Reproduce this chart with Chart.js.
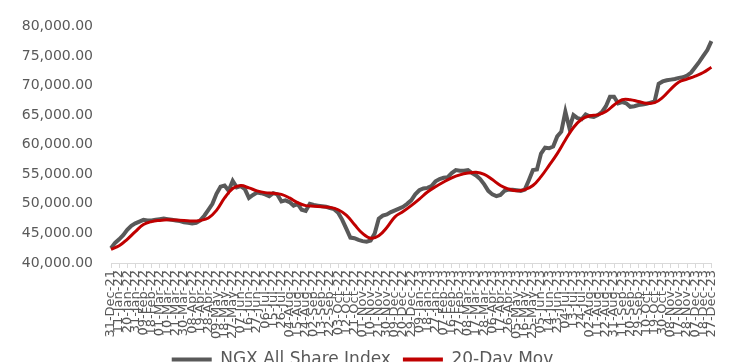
<!DOCTYPE html>
<html>
<head>
<meta charset="utf-8">
<script src="https://cdn.jsdelivr.net/npm/chart.js@4.4.1/dist/chart.umd.min.js"></script>
<style>
  html, body { margin: 0; padding: 0; background: #ffffff; overflow: hidden; }
  #wrap { position: absolute; left: 0; top: 0; width: 729px; height: 378px; }
</style>
</head>
<body>
<div id="wrap"><canvas id="c"></canvas></div>
<script>
// Sampled trading sessions; every other one carries an axis label
const sessions = [
  '31-Dec-21','06-Jan-22','11-Jan-22','17-Jan-22','20-Jan-22','26-Jan-22','31-Jan-22','04-Feb-22',
  '09-Feb-22','15-Feb-22','18-Feb-22','24-Feb-22','01-Mar-22','07-Mar-22','10-Mar-22','16-Mar-22',
  '21-Mar-22','25-Mar-22','30-Mar-22','05-Apr-22','08-Apr-22','14-Apr-22','19-Apr-22','25-Apr-22',
  '28-Apr-22','04-May-22','09-May-22','13-May-22','18-May-22','24-May-22','27-May-22','02-Jun-22',
  '07-Jun-22','13-Jun-22','16-Jun-22','22-Jun-22','27-Jun-22','01-Jul-22','06-Jul-22','12-Jul-22',
  '15-Jul-22','21-Jul-22','26-Jul-22','01-Aug-22','04-Aug-22','10-Aug-22','15-Aug-22','19-Aug-22',
  '24-Aug-22','30-Aug-22','02-Sep-22','08-Sep-22','13-Sep-22','19-Sep-22','22-Sep-22','28-Sep-22',
  '03-Oct-22','07-Oct-22','12-Oct-22','18-Oct-22','21-Oct-22','27-Oct-22','01-Nov-22','07-Nov-22',
  '10-Nov-22','16-Nov-22','21-Nov-22','25-Nov-22','30-Nov-22','06-Dec-22','09-Dec-22','15-Dec-22',
  '20-Dec-22','23-Dec-22','29-Dec-22','04-Jan-23','09-Jan-23','13-Jan-23','18-Jan-23','24-Jan-23',
  '27-Jan-23','02-Feb-23','07-Feb-23','13-Feb-23','16-Feb-23','22-Feb-23','27-Feb-23','03-Mar-23',
  '08-Mar-23','14-Mar-23','17-Mar-23','23-Mar-23','28-Mar-23','03-Apr-23','06-Apr-23','12-Apr-23',
  '17-Apr-23','21-Apr-23','26-Apr-23','02-May-23','05-May-23','11-May-23','16-May-23','22-May-23',
  '25-May-23','31-May-23','05-Jun-23','09-Jun-23','14-Jun-23','20-Jun-23','23-Jun-23','29-Jun-23',
  '04-Jul-23','10-Jul-23','13-Jul-23','19-Jul-23','24-Jul-23','28-Jul-23','02-Aug-23','08-Aug-23',
  '11-Aug-23','17-Aug-23','22-Aug-23','28-Aug-23','31-Aug-23','06-Sep-23','11-Sep-23','15-Sep-23',
  '20-Sep-23','26-Sep-23','29-Sep-23','05-Oct-23','10-Oct-23','16-Oct-23','19-Oct-23','25-Oct-23',
  '30-Oct-23','03-Nov-23','08-Nov-23','14-Nov-23','17-Nov-23','23-Nov-23','28-Nov-23','04-Dec-23',
  '07-Dec-23','13-Dec-23','18-Dec-23','22-Dec-23','27-Dec-23'
];

// NGX All Share Index closing level
const asiIndex = [
  42500, 43400, 44000, 44700, 45600, 46300, 46700, 47000, 47300, 47200,
  47200, 47300, 47400, 47500, 47400, 47300, 47200, 47100, 46900, 46800,
  46700, 46800, 47200, 48000, 49000, 50000, 51700, 52900, 53100, 52200,
  53900, 52800, 53000, 52500, 51000, 51500, 51900, 51800, 51600, 51300,
  51800, 51600, 50400, 50600, 50300, 49700, 50000, 49000, 48800, 50000,
  49800, 49700, 49600, 49500, 49300, 49100, 48500, 47300, 45800, 44300,
  44200, 43900, 43700, 43600, 43800, 45000, 47500, 48000, 48200, 48600,
  48900, 49200, 49500, 50000, 50600, 51600, 52300, 52600, 52700, 53000,
  53800, 54200, 54400, 54500, 55200, 55700, 55600, 55600, 55700, 55200,
  54800, 54200, 53300, 52200, 51600, 51300, 51500, 52200, 52400, 52400,
  52300, 52200, 52400, 54000, 55700, 55800, 58500, 59500, 59400, 59700,
  61400, 62200, 65600, 62800, 65000, 64500, 64300, 65100, 64800, 64700,
  65000, 65500, 66500, 68100, 68100, 67000, 67200, 67000, 66400, 66500,
  66700, 66800, 66900, 67100, 67300, 70300, 70700, 70900, 71000, 71100,
  71300, 71400, 71700, 72200, 73100, 74000, 75000, 76000, 77500
];

// 20-day moving average, read at the labelled sessions
const movingAvg20 = [
  42300, null, 42900, null, 44000, null, 45300, null, 46500, null,
  47000, null, 47200, null, 47300, null, 47250, null, 47200, null,
  47100, null, 47200, null, 47600, null, 48900, null, 51000, null,
  52600, null, 53100, null, 52700, null, 52200, null, 51900, null,
  51800, null, 51600, null, 51000, null, 50200, null, 49700, null,
  49600, null, 49500, null, 49400, null, 49000, null, 48100, null,
  46500, null, 45000, null, 44200, null, 44600, null, 46000, null,
  47800, null, 48700, null, 49700, null, 50800, null, 52000, null,
  52900, null, 53700, null, 54400, null, 54900, null, 55200, null,
  55350, null, 55000, null, 54100, null, 53100, null, 52500, null,
  52200, null, 52400, null, 53100, null, 54600, null, 56500, null,
  58500, null, 60800, null, 62900, null, 64300, null, 64900, null,
  65050, null, 65600, null, 66700, null, 67600, null, 67600, null,
  67300, null, 67000, null, 67100, null, 68000, null, 69400, null,
  70600, null, 71100, null, 71600, null, 72200, null, 73100
];

const yTicks = [40000, 45000, 50000, 55000, 60000, 65000, 70000, 75000, 80000];

const textGrey = '#595959';
const axisGrey = '#d9d9d9';
const fontFamily = '"DejaVu Sans", sans-serif';

new Chart(document.getElementById('c'), {
  type: 'line',
  data: {
    labels: sessions,
    datasets: [
      {
        label: 'NGX All Share Index',
        data: asiIndex,
        borderColor: '#595959',
        backgroundColor: '#595959',
        borderWidth: 4,
        pointRadius: 0,
        tension: 0,
        order: 1
      },
      {
        label: '20-Day Mov',
        data: movingAvg20,
        borderColor: '#c00000',
        backgroundColor: '#c00000',
        borderWidth: 3,
        pointRadius: 0,
        tension: 0.4,
        spanGaps: true,
        order: 0
      }
    ]
  },
  options: {
    responsive: true,
    maintainAspectRatio: false,
    animation: false,
    layout: { padding: { top: 0, right: 4, left: 0, bottom: 0 } },
    plugins: {
      tooltip: { enabled: false },
      legend: {
        position: 'bottom',
        labels: {
          color: textGrey,
          font: { family: fontFamily, size: 17 },
          boxWidth: 40,
          boxHeight: 4,
          padding: 12,
          sort: (a, b) => a.datasetIndex - b.datasetIndex,
          generateLabels: (chart) =>
            Chart.defaults.plugins.legend.labels.generateLabels(chart)
              .map(item => Object.assign(item, { lineWidth: 0 }))
        }
      }
    },
    scales: {
      x: {
        type: 'category',
        offset: false,
        grid: {
          display: true,
          drawOnChartArea: false,
          drawTicks: true,
          tickLength: 5,
          color: (ctx) => (ctx.index % 2 === 0 ? axisGrey : 'rgba(0,0,0,0)')
        },
        border: { display: true, color: axisGrey, width: 1 },
        ticks: {
          autoSkip: false,
          minRotation: 90,
          maxRotation: 90,
          padding: 2,
          color: textGrey,
          font: { family: fontFamily, size: 13 },
          callback: (v, i) => (i % 2 === 0 ? sessions[i] : '')
        },
        afterFit: (s) => { s.height = 76; }
      },
      y: {
        min: 40000,
        max: 80000,
        afterBuildTicks: (s) => { s.ticks = yTicks.map(v => ({ value: v })); },
        grid: { display: false, drawTicks: false },
        border: { display: false },
        ticks: {
          padding: 18,
          color: textGrey,
          font: { family: fontFamily, size: 14 },
          callback: (v) => Number(v).toLocaleString('en-US', { minimumFractionDigits: 2, maximumFractionDigits: 2 })
        },
        afterFit: (s) => { s.width = 111; }
      }
    }
  }
});
</script>
</body>
</html>
